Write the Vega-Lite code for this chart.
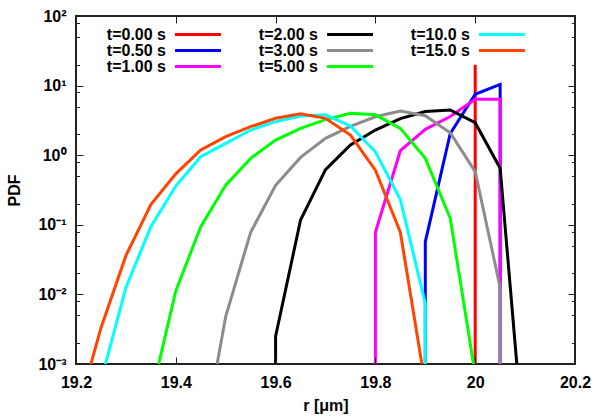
{
  "$schema": "https://vega.github.io/schema/vega-lite/v6.json",
  "width": 499,
  "height": 348,
  "autosize": {"type": "none"},
  "padding": {"left": 76, "top": 16, "right": 20, "bottom": 55},
  "background": "white",
  "config": {
    "view": {"stroke": "#222", "strokeWidth": 2},
    "font": "Liberation Sans"
  },
  "datasets": {
    "curves": [
      {"t": "t=0.00 s", "i": 0, "r": 20.0, "pdf": 1e-8},
      {"t": "t=0.00 s", "i": 1, "r": 20.0, "pdf": 20},
      {"t": "t=0.50 s", "i": 0, "r": 19.90, "pdf": 1e-8},
      {"t": "t=0.50 s", "i": 1, "r": 19.90, "pdf": 0.057},
      {"t": "t=0.50 s", "i": 2, "r": 19.95, "pdf": 2.05},
      {"t": "t=0.50 s", "i": 3, "r": 20.00, "pdf": 7.5},
      {"t": "t=0.50 s", "i": 4, "r": 20.05, "pdf": 10.4},
      {"t": "t=0.50 s", "i": 5, "r": 20.05, "pdf": 1e-8},
      {"t": "t=1.00 s", "i": 0, "r": 19.80, "pdf": 1e-8},
      {"t": "t=1.00 s", "i": 1, "r": 19.80, "pdf": 0.078},
      {"t": "t=1.00 s", "i": 2, "r": 19.85, "pdf": 1.16},
      {"t": "t=1.00 s", "i": 3, "r": 19.90, "pdf": 2.35},
      {"t": "t=1.00 s", "i": 4, "r": 19.95, "pdf": 3.6},
      {"t": "t=1.00 s", "i": 5, "r": 20.00, "pdf": 6.35},
      {"t": "t=1.00 s", "i": 6, "r": 20.05, "pdf": 6.35},
      {"t": "t=1.00 s", "i": 7, "r": 20.05, "pdf": 1e-8},
      {"t": "t=2.00 s", "i": 0, "r": 19.60, "pdf": 1e-8},
      {"t": "t=2.00 s", "i": 1, "r": 19.60, "pdf": 0.0025},
      {"t": "t=2.00 s", "i": 2, "r": 19.65, "pdf": 0.117},
      {"t": "t=2.00 s", "i": 3, "r": 19.70, "pdf": 0.62},
      {"t": "t=2.00 s", "i": 4, "r": 19.75, "pdf": 1.4},
      {"t": "t=2.00 s", "i": 5, "r": 19.80, "pdf": 2.3},
      {"t": "t=2.00 s", "i": 6, "r": 19.85, "pdf": 3.35},
      {"t": "t=2.00 s", "i": 7, "r": 19.90, "pdf": 4.25},
      {"t": "t=2.00 s", "i": 8, "r": 19.95, "pdf": 4.47},
      {"t": "t=2.00 s", "i": 9, "r": 20.00, "pdf": 2.93},
      {"t": "t=2.00 s", "i": 10, "r": 20.05, "pdf": 0.65},
      {"t": "t=2.00 s", "i": 11, "r": 20.10, "pdf": 4e-5},
      {"t": "t=3.00 s", "i": 0, "r": 19.45, "pdf": 5e-5},
      {"t": "t=3.00 s", "i": 1, "r": 19.50, "pdf": 0.0048},
      {"t": "t=3.00 s", "i": 2, "r": 19.55, "pdf": 0.078},
      {"t": "t=3.00 s", "i": 3, "r": 19.60, "pdf": 0.37},
      {"t": "t=3.00 s", "i": 4, "r": 19.65, "pdf": 0.93},
      {"t": "t=3.00 s", "i": 5, "r": 19.70, "pdf": 1.75},
      {"t": "t=3.00 s", "i": 6, "r": 19.75, "pdf": 2.6},
      {"t": "t=3.00 s", "i": 7, "r": 19.80, "pdf": 3.57},
      {"t": "t=3.00 s", "i": 8, "r": 19.85, "pdf": 4.3},
      {"t": "t=3.00 s", "i": 9, "r": 19.90, "pdf": 3.7},
      {"t": "t=3.00 s", "i": 10, "r": 19.95, "pdf": 2.1},
      {"t": "t=3.00 s", "i": 11, "r": 20.00, "pdf": 0.58},
      {"t": "t=3.00 s", "i": 12, "r": 20.05, "pdf": 0.0126},
      {"t": "t=3.00 s", "i": 13, "r": 20.05, "pdf": 1e-8},
      {"t": "t=5.00 s", "i": 0, "r": 19.35, "pdf": 0.00033},
      {"t": "t=5.00 s", "i": 1, "r": 19.40, "pdf": 0.0112},
      {"t": "t=5.00 s", "i": 2, "r": 19.45, "pdf": 0.094},
      {"t": "t=5.00 s", "i": 3, "r": 19.50, "pdf": 0.37},
      {"t": "t=5.00 s", "i": 4, "r": 19.55, "pdf": 0.9},
      {"t": "t=5.00 s", "i": 5, "r": 19.60, "pdf": 1.65},
      {"t": "t=5.00 s", "i": 6, "r": 19.65, "pdf": 2.43},
      {"t": "t=5.00 s", "i": 7, "r": 19.70, "pdf": 3.25},
      {"t": "t=5.00 s", "i": 8, "r": 19.75, "pdf": 4.0},
      {"t": "t=5.00 s", "i": 9, "r": 19.80, "pdf": 3.8},
      {"t": "t=5.00 s", "i": 10, "r": 19.85, "pdf": 2.43},
      {"t": "t=5.00 s", "i": 11, "r": 19.90, "pdf": 0.9},
      {"t": "t=5.00 s", "i": 12, "r": 19.95, "pdf": 0.124},
      {"t": "t=5.00 s", "i": 13, "r": 20.00, "pdf": 0.0007},
      {"t": "t=10.0 s", "i": 0, "r": 19.20, "pdf": 1e-5},
      {"t": "t=10.0 s", "i": 1, "r": 19.25, "pdf": 0.00057},
      {"t": "t=10.0 s", "i": 2, "r": 19.30, "pdf": 0.0125},
      {"t": "t=10.0 s", "i": 3, "r": 19.35, "pdf": 0.094},
      {"t": "t=10.0 s", "i": 4, "r": 19.40, "pdf": 0.36},
      {"t": "t=10.0 s", "i": 5, "r": 19.45, "pdf": 0.95},
      {"t": "t=10.0 s", "i": 6, "r": 19.50, "pdf": 1.48},
      {"t": "t=10.0 s", "i": 7, "r": 19.55, "pdf": 2.3},
      {"t": "t=10.0 s", "i": 8, "r": 19.60, "pdf": 3.03},
      {"t": "t=10.0 s", "i": 9, "r": 19.65, "pdf": 3.66},
      {"t": "t=10.0 s", "i": 10, "r": 19.70, "pdf": 3.8},
      {"t": "t=10.0 s", "i": 11, "r": 19.75, "pdf": 2.63},
      {"t": "t=10.0 s", "i": 12, "r": 19.80, "pdf": 1.12},
      {"t": "t=10.0 s", "i": 13, "r": 19.85, "pdf": 0.23},
      {"t": "t=10.0 s", "i": 14, "r": 19.90, "pdf": 0.0074},
      {"t": "t=10.0 s", "i": 15, "r": 19.90, "pdf": 1e-8},
      {"t": "t=15.0 s", "i": 0, "r": 19.20, "pdf": 0.00017},
      {"t": "t=15.0 s", "i": 1, "r": 19.25, "pdf": 0.0033},
      {"t": "t=15.0 s", "i": 2, "r": 19.30, "pdf": 0.036},
      {"t": "t=15.0 s", "i": 3, "r": 19.35, "pdf": 0.195},
      {"t": "t=15.0 s", "i": 4, "r": 19.40, "pdf": 0.54},
      {"t": "t=15.0 s", "i": 5, "r": 19.45, "pdf": 1.19},
      {"t": "t=15.0 s", "i": 6, "r": 19.50, "pdf": 1.85},
      {"t": "t=15.0 s", "i": 7, "r": 19.55, "pdf": 2.57},
      {"t": "t=15.0 s", "i": 8, "r": 19.60, "pdf": 3.39},
      {"t": "t=15.0 s", "i": 9, "r": 19.65, "pdf": 3.95},
      {"t": "t=15.0 s", "i": 10, "r": 19.70, "pdf": 3.39},
      {"t": "t=15.0 s", "i": 11, "r": 19.75, "pdf": 1.95},
      {"t": "t=15.0 s", "i": 12, "r": 19.80, "pdf": 0.61},
      {"t": "t=15.0 s", "i": 13, "r": 19.85, "pdf": 0.078},
      {"t": "t=15.0 s", "i": 14, "r": 19.90, "pdf": 0.0005}
    ]
  },
  "resolve": {"axis": {"x": "independent", "y": "independent"}},
  "layer": [
    {
      "data": {"name": "curves"},
      "mark": {"type": "line", "strokeWidth": 3, "clip": true},
      "encoding": {
        "x": {
          "field": "r", "type": "quantitative",
          "scale": {"domain": [19.2, 20.2], "nice": false, "zero": false},
          "axis": {
            "orient": "bottom",
            "offset": -7,
            "zindex": 1,
            "values": [19.2, 19.4, 19.6, 19.8, 20, 20.2],
            "format": ".3~g",
            "ticks": true, "tickSize": 7, "tickWidth": 1, "tickColor": "#222",
            "domain": false, "grid": false,
            "labelFlush": false, "labelOverlap": false,
            "labelFont": "Liberation Sans", "labelFontSize": 16, "labelFontWeight": "bold", "labelColor": "black",
            "labelPadding": 10,
            "title": "r [μm]",
            "titleFont": "Liberation Sans", "titleFontSize": 16, "titleFontWeight": "bold", "titleColor": "black",
            "titlePadding": 7
          }
        },
        "y": {
          "field": "pdf", "type": "quantitative",
          "scale": {"type": "log", "domain": [0.001, 100], "nice": false},
          "axis": {
            "orient": "left",
            "offset": -7,
            "zindex": 1,
            "values": [0.001, 0.002, 0.005, 0.008, 0.01, 0.02, 0.05, 0.08, 0.1, 0.2, 0.5, 0.8, 1, 2, 5, 8, 10, 20, 50, 80, 100],
            "labelExpr": "datum.value == 100 ? '10²' : datum.value == 10 ? '10¹' : datum.value == 1 ? '10⁰' : datum.value == 0.1 ? '10⁻¹' : datum.value == 0.01 ? '10⁻²' : datum.value == 0.001 ? '10⁻³' : ''",
            "ticks": true, "tickSize": 7, "tickWidth": 1, "tickColor": "#222",
            "tickDash": {"condition": {"test": "datum.value == 100 || datum.value == 10 || datum.value == 1 || datum.value == 0.1 || datum.value == 0.01 || datum.value == 0.001", "value": [7, 0]}, "value": [0, 3.5, 3.5, 10]},
            "domain": false, "grid": false,
            "labelOverlap": false, "labelFlush": false,
            "labelFont": "Liberation Sans", "labelFontSize": 16, "labelFontWeight": "bold", "labelColor": "black",
            "labelPadding": 10,
            "title": "PDF",
            "titleFont": "Liberation Sans", "titleFontSize": 16, "titleFontWeight": "bold", "titleColor": "black",
            "titlePadding": 15
          }
        },
        "color": {
          "field": "t", "type": "nominal",
          "scale": {
            "domain": ["t=0.00 s", "t=0.50 s", "t=1.00 s", "t=2.00 s", "t=3.00 s", "t=5.00 s", "t=10.0 s", "t=15.0 s"],
            "range": ["#ff0000", "#0000ff", "#ff00ff", "#000000", "#8c8c8c", "#00ff00", "#00ffff", "#ff4500"]
          },
          "legend": {
            "title": null,
            "orient": "none",
            "legendX": 114,
            "legendY": 10.5,
            "columns": 3,
            "gridAlign": "all",
            "columnPadding": 31,
            "rowPadding": 0,
            "padding": 0,
            "symbolType": "M-4,0H4",
            "symbolSize": 132,
            "symbolStrokeWidth": 3,
            "labelFont": "Liberation Sans",
            "labelFontSize": 16,
            "labelFontWeight": "bold",
            "labelColor": "black",
            "labelAlign": "right",
            "labelOffset": -40,
            "labelLimit": 200
          }
        },
        "order": {"field": "i", "type": "quantitative"}
      }
    },
    {
      "data": {"name": "curves"},
      "mark": {"type": "point", "opacity": 0, "size": 0},
      "encoding": {
        "x": {
          "field": "r", "type": "quantitative",
          "axis": {
            "orient": "top",
            "offset": -7,
            "zindex": 1,
            "values": [19.2, 19.4, 19.6, 19.8, 20, 20.2],
            "labels": false, "title": null,
            "ticks": true, "tickSize": 7, "tickWidth": 1, "tickColor": "#222",
            "domain": false, "grid": false
          }
        },
        "y": {
          "field": "pdf", "type": "quantitative",
          "axis": {
            "orient": "right",
            "offset": -7,
            "zindex": 1,
            "values": [0.001, 0.002, 0.005, 0.008, 0.01, 0.02, 0.05, 0.08, 0.1, 0.2, 0.5, 0.8, 1, 2, 5, 8, 10, 20, 50, 80, 100],
            "labels": false, "title": null,
            "ticks": true, "tickSize": 7, "tickWidth": 1, "tickColor": "#222",
            "tickDash": {"condition": {"test": "datum.value == 100 || datum.value == 10 || datum.value == 1 || datum.value == 0.1 || datum.value == 0.01 || datum.value == 0.001", "value": [7, 0]}, "value": [0, 3.5, 3.5, 10]},
            "domain": false, "grid": false
          }
        }
      }
    }
  ]
}
